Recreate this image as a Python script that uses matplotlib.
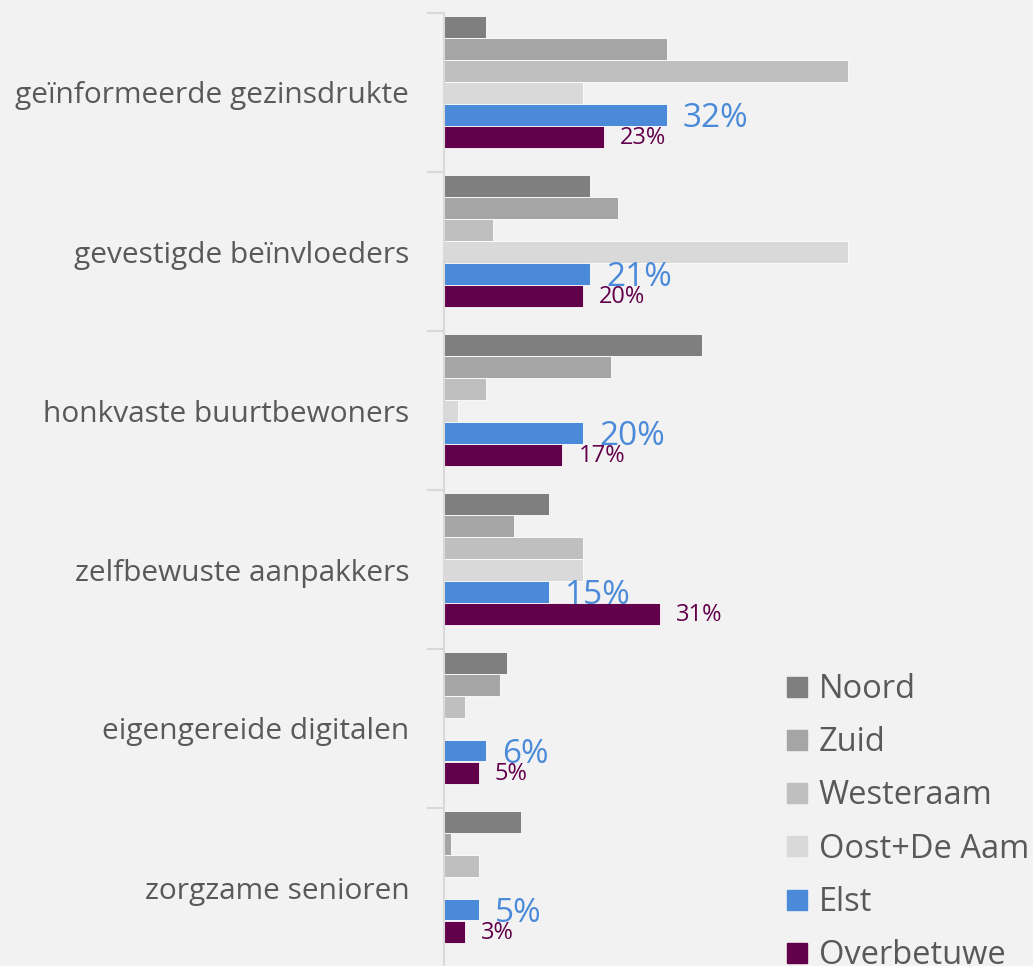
import numpy as np
import matplotlib.pyplot as plt
from matplotlib.lines import Line2D

plt.rcParams['font.family'] = ['Open Sans', 'DejaVu Sans']

categories = ['geïnformeerde gezinsdrukte', 'gevestigde beïnvloeders',
              'honkvaste buurtbewoners', 'zelfbewuste aanpakkers',
              'eigengereide digitalen', 'zorgzame senioren']
series = ['Noord', 'Zuid', 'Westeraam', 'Oost+De Aam', 'Elst', 'Overbetuwe']

noord = [6, 21, 37, 15, 9, 11]
zuid = [32, 25, 24, 10, 8, 1]
westeraam = [58, 7, 6, 20, 3, 5]
oost = [20, 58, 2, 20, 0, 0]
elst = [32, 21, 20, 15, 6, 5]
overbetuwe = [23, 20, 17, 31, 5, 3]

colors = ['#7f7f7f', '#a5a5a5', '#bfbfbf', '#d9d9d9', '#4a8ad8', '#63004b']
text_grey = '#595959'
bg = '#f2f2f2'

fig = plt.figure(figsize=(10.33, 9.66), dpi=100, facecolor=bg)
ax = fig.add_axes([444 / 1033, -1 / 966, 418 / 1033, 954 / 966])
ax.set_facecolor(bg)

band = 159.0
h = 22 / band
top_off = 2.5 / band
all_vals = [noord, zuid, westeraam, oost, elst, overbetuwe]
y0 = np.arange(len(categories))
for j, vals in enumerate(all_vals):
    ys = y0 + top_off + j * h
    ax.barh(ys, vals, height=h, align='edge', color=colors[j],
            edgecolor='#ffffff', linewidth=0.6, label=series[j])
    if series[j] == 'Elst':
        for y, v in zip(ys, vals):
            ax.text(v + 2.3, y + h / 2 + 0.025, f'{v}%', color=colors[j], fontsize=24,
                    va='center', ha='left')
    if series[j] == 'Overbetuwe':
        for y, v in zip(ys, vals):
            ax.text(v + 2.3, y + h / 2 + 0.012, f'{v}%', color=colors[j], fontsize=17,
                    va='center', ha='left')

ax.set_xlim(0, 60)
ax.set_ylim(len(categories), 0)
ax.set_yticks(y0 + 0.5)
ax.set_yticklabels(categories, fontsize=21.5, color=text_grey)
ax.tick_params(axis='y', which='major', length=0, pad=25)
ax.set_yticks(np.arange(len(categories) + 1), minor=True)
ax.tick_params(axis='y', which='minor', length=12, color='#d9d9d9', width=1.5)
ax.set_xticks([])
for s in ['top', 'right', 'bottom']:
    ax.spines[s].set_visible(False)
ax.spines['left'].set_color('#d9d9d9')
ax.spines['left'].set_linewidth(1.5)

handles = [Line2D([], [], marker='s', linestyle='', markersize=15,
                  markerfacecolor=c, markeredgecolor=c) for c in colors]
leg = fig.legend(handles, series, loc='upper left', bbox_to_anchor=(786 / 1033, 1 - 673 / 966),
                 frameon=False, fontsize=23.5, labelspacing=0.62, handlelength=0.7,
                 handletextpad=0.3, borderpad=0, borderaxespad=0)
for t in leg.get_texts():
    t.set_color(text_grey)

fig.savefig('out.png', dpi=100, facecolor=bg)
